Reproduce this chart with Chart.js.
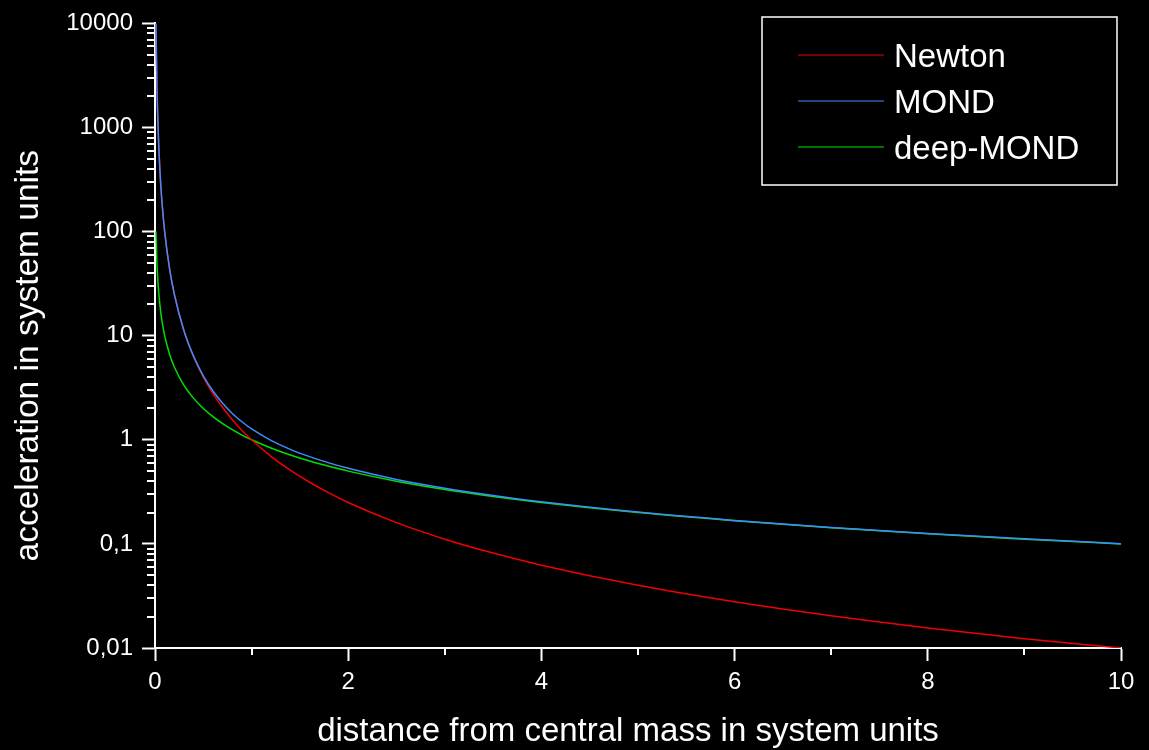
<!DOCTYPE html>
<html lang="en">
<head>
<meta charset="utf-8" />
<title>Newton vs MOND acceleration</title>
<script src="https://cdn.jsdelivr.net/npm/chart.js@4/dist/chart.umd.min.js"></script>
<style>
  html, body { margin: 0; padding: 0; background: #000; }
  #wrap { width: 1149px; height: 750px; }
</style>
</head>
<body>
<div id="wrap"><canvas id="accel"></canvas></div>

<script>
// values
const distance = [0.01, 0.02, 0.03, 0.05, 0.07, 0.1, 0.15, 0.2, 0.3, 0.4, 0.5, 0.6, 0.7, 0.8, 0.9,
                  1, 1.2, 1.4, 1.6, 1.8, 2, 2.5, 3, 3.5, 4, 5, 6, 7, 8, 9, 10];
const newton = [10000, 2500, 1111, 400, 204, 100, 44.4, 25, 11.1, 6.25, 4, 2.78, 2.04, 1.56, 1.23,
                1, 0.694, 0.51, 0.391, 0.309, 0.25, 0.16, 0.111, 0.0816, 0.0625, 0.04, 0.0278, 0.0204, 0.0156, 0.0123, 0.01];
const mond = [10000, 2500, 1111, 400, 204, 100, 44.5, 25.0, 11.15, 6.33, 4.12, 2.94, 2.24, 1.79, 1.49,
              1.27, 0.988, 0.81, 0.689, 0.60, 0.532, 0.416, 0.343, 0.292, 0.254, 0.202, 0.168, 0.144, 0.126, 0.112, 0.1005];
const deepMond = [100, 50, 33.3, 20, 14.3, 10, 6.67, 5, 3.33, 2.5, 2, 1.67, 1.43, 1.25, 1.11,
                  1, 0.833, 0.714, 0.625, 0.556, 0.5, 0.4, 0.333, 0.286, 0.25, 0.2, 0.167, 0.143, 0.125, 0.111, 0.1];

const seriesNames = ['Newton', 'MOND', 'deep-MOND'];
const yTicks = [0.01, 0.1, 1, 10, 100, 1000, 10000];
const yTickLabels = ['0,01', '0,1', '1', '10', '100', '1000', '10000'];
const yMinorSteps = [2, 3, 4, 5, 6, 7, 8, 9];
const xMinor = [1, 3, 5, 7, 9];
const xTitle = 'distance from central mass in system units';
const yTitle = 'acceleration in system units';

const FONT = '"Liberation Sans", Arial, sans-serif';

function pts(ys) {
    return distance.map((x, i) => ({x: x, y: ys[i]}));
}

var decor = {
    id: 'decor',
    beforeDraw(chart) {
        const ctx = chart.ctx;
        ctx.save();
        ctx.fillStyle = '#000';
        ctx.fillRect(0, 0, chart.width, chart.height);
        ctx.restore();
    },
    afterDraw(chart) {
        const ctx = chart.ctx;
        const area = chart.chartArea;
        const x = chart.scales.x, y = chart.scales.y;
        ctx.save();
        ctx.strokeStyle = '#fff';
        ctx.lineWidth = 2;

        // minor ticks, short ones
        yTicks.slice(0, -1).forEach(base => {
            yMinorSteps.forEach(m => {
                const py = Math.round(y.getPixelForValue(base * m));
                ctx.beginPath();
                ctx.moveTo(area.left - 8, py);
                ctx.lineTo(area.left, py);
                ctx.stroke();
            });
        });
        xMinor.forEach(v => {
            const px = Math.round(x.getPixelForValue(v));
            ctx.beginPath();
            ctx.moveTo(px, area.bottom);
            ctx.lineTo(px, area.bottom + 7);
            ctx.stroke();
        });

        // axis titles
        ctx.fillStyle = '#fff';
        ctx.textAlign = 'center';
        ctx.textBaseline = 'alphabetic';
        ctx.font = '33px ' + FONT;
        ctx.fillText(xTitle, (area.left + area.right) / 2 - 10, 741);
        ctx.save();
        ctx.font = '33.5px ' + FONT;
        ctx.translate(38, (area.top + area.bottom) / 2 + 20);
        ctx.rotate(-Math.PI / 2);
        ctx.fillText(yTitle, 0, 0);
        ctx.restore();

        // legend box
        ctx.lineWidth = 1.5;
        ctx.strokeRect(762, 17, 355, 168);
        ctx.textAlign = 'left';
        ctx.font = '33px ' + FONT;
        chart.data.datasets.forEach((ds, i) => {
            const ly = 55 + i * 46;
            ctx.strokeStyle = ds.borderColor;
            ctx.lineWidth = 1;
            ctx.beginPath();
            ctx.moveTo(798, ly);
            ctx.lineTo(884, ly);
            ctx.stroke();
            ctx.fillText(ds.label, 894, ly + 12);
        });
        ctx.restore();
    }
};

var ctx = document.getElementById('accel').getContext('2d');
new Chart(ctx, {
    type: 'line',
    data: {
        datasets: [{
            label: seriesNames[0],
            data: pts(newton),
            borderColor: '#f00000',
            borderWidth: 1.5,
            pointRadius: 0,
            order: 2,
            cubicInterpolationMode: 'monotone'
        }, {
            label: seriesNames[1],
            data: pts(mond),
            borderColor: '#3f8cff',
            borderWidth: 1.5,
            pointRadius: 0,
            order: 1,
            cubicInterpolationMode: 'monotone'
        }, {
            label: seriesNames[2],
            data: pts(deepMond),
            borderColor: '#00e000',
            borderWidth: 1.5,
            pointRadius: 0,
            order: 3,
            cubicInterpolationMode: 'monotone'
        }]
    },
    options: {
        animation: false,
        responsive: true,
        maintainAspectRatio: false,
        layout: { padding: { top: 20, right: 28, left: 0, bottom: 0 } },
        plugins: {
            legend: { display: false },
            tooltip: { enabled: false }
        },
        scales: {
            x: {
                type: 'linear',
                min: 0,
                max: 10,
                afterFit: (s) => { s.height = 102; },
                border: { display: true, color: '#fff', width: 2 },
                grid: { display: true, drawOnChartArea: false, drawTicks: true, tickLength: 13, tickColor: '#fff', tickWidth: 2 },
                ticks: {
                    stepSize: 2,
                    color: '#fff',
                    padding: 7,
                    maxRotation: 0,
                    font: { family: FONT, size: 24 },
                    callback: (v) => String(v)
                }
            },
            y: {
                type: 'logarithmic',
                min: 0.01,
                max: 10000,
                afterFit: (s) => { s.width = 155; },
                afterBuildTicks: (s) => { s.ticks = yTicks.map(v => ({value: v})); },
                border: { display: true, color: '#fff', width: 2 },
                grid: { display: true, drawOnChartArea: false, drawTicks: true, tickLength: 13, tickColor: '#fff', tickWidth: 2 },
                ticks: {
                    color: '#fff',
                    padding: 9,
                    autoSkip: false,
                    font: { family: FONT, size: 24 },
                    callback: (v, i) => yTickLabels[i]
                }
            }
        }
    },
    plugins: [decor]
});
</script>
</body>
</html>
